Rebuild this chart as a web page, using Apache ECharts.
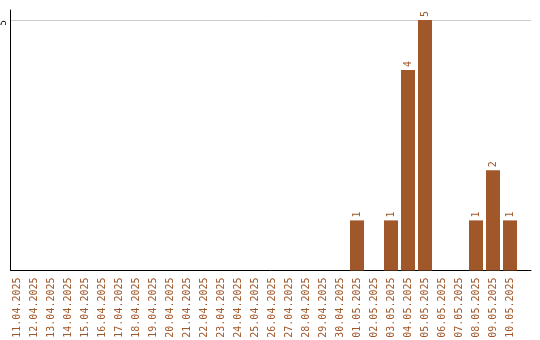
<!DOCTYPE html>
<html><head><meta charset="utf-8">
<script src="https://cdn.jsdelivr.net/npm/echarts@6/dist/echarts.min.js"></script>
<style>html,body{margin:0;padding:0;background:#fff}#c{width:540px;height:340px}</style>
</head><body><div id="c"></div>
<script>
var categories = ["11.04.2025","12.04.2025","13.04.2025","14.04.2025","15.04.2025","16.04.2025","17.04.2025","18.04.2025","19.04.2025","20.04.2025","21.04.2025","22.04.2025","23.04.2025","24.04.2025","25.04.2025","26.04.2025","27.04.2025","28.04.2025","29.04.2025","30.04.2025","01.05.2025","02.05.2025","03.05.2025","04.05.2025","05.05.2025","06.05.2025","07.05.2025","08.05.2025","09.05.2025","10.05.2025"];
var counts = [0,0,0,0,0,0,0,0,0,0,0,0,0,0,0,0,0,0,0,0,1,0,1,4,5,0,0,1,2,1];
var yTickStep = 5;

var barColor = '#a0572a';
var chart = echarts.init(document.getElementById('c'), null, {renderer:'canvas'});
var idx = categories.map(function(_, i){ return i; });
chart.setOption({
  animation: false,
  grid: {left: 10.5, right: 9, top: 10, bottom: 69.5, containLabel: false, outerBoundsMode: 'none'},
  xAxis: {
    type: 'value', min: -6.5/17, max: -6.5/17 + 520.5/17,
    axisLine: {show: true, onZero: false, lineStyle: {color: '#000', width: 1}},
    axisTick: {show: false},
    splitLine: {show: false},
    axisLabel: {
      customValues: idx, showMinLabel: true, showMaxLabel: true,
      rotate: 90, margin: 7, color: barColor,
      fontFamily: 'DejaVu Sans Mono', fontSize: 10,
      formatter: function(v){ return categories[Math.round(v)] || ''; }
    }
  },
  yAxis: {
    type: 'value', min: 0, max: 5.2, interval: yTickStep,
    axisLine: {show: true, onZero: false, lineStyle: {color: '#000', width: 1}},
    axisTick: {show: false},
    splitLine: {show: true, showMinLine: false, showMaxLine: false, lineStyle: {color: '#cccccc', width: 1}},
    axisLabel: {
      showMinLabel: false, showMaxLabel: false,
      rotate: 90, margin: 2, color: '#000',
      fontFamily: 'DejaVu Sans Mono', fontSize: 9,
      verticalAlign: 'bottom', align: 'right'
    }
  },
  series: [{
    type: 'bar',
    barWidth: 14,
    data: counts.map(function(v, i){ return [i, v]; }),
    itemStyle: {color: barColor},
    label: {
      show: true, position: 'top', rotate: 90, distance: 3,
      align: 'left', verticalAlign: 'middle',
      color: barColor, fontFamily: 'DejaVu Sans Mono', fontSize: 10,
      formatter: function(p){ return p.value[1] ? String(p.value[1]) : ''; }
    }
  }]
});
</script></body></html>
